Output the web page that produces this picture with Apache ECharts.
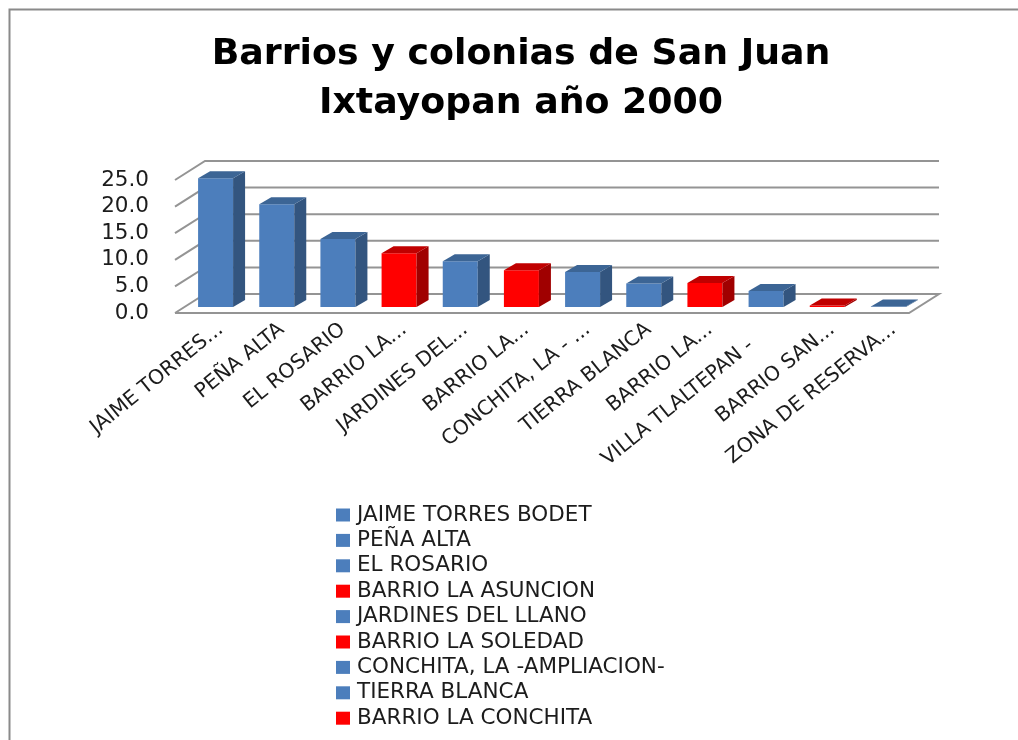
<!DOCTYPE html>
<html><head><meta charset="utf-8">
<style>html,body{margin:0;padding:0;background:#fff}#c{width:1018px;height:740px}</style>
<script src="https://cdn.jsdelivr.net/npm/echarts@6/dist/echarts.min.js"></script>
</head><body><div id="c"></div>
<script>
const chartTitle = 'Barrios y colonias de San Juan\nIxtayopan año 2000';
const categories = ['JAIME TORRES BODET','PEÑA ALTA','EL ROSARIO','BARRIO LA ASUNCION','JARDINES DEL LLANO','BARRIO LA SOLEDAD','CONCHITA, LA -AMPLIACION-','TIERRA BLANCA','BARRIO LA CONCHITA','VILLA TLALTEPAN -','BARRIO SAN...','ZONA DE RESERVA...'];
const tickLabels = ['JAIME TORRES...','PEÑA ALTA','EL ROSARIO','BARRIO LA...','JARDINES DEL...','BARRIO LA...','CONCHITA, LA - ...','TIERRA BLANCA','BARRIO LA...','VILLA TLALTEPAN -\u00a0\u00a0\u00a0\u00a0','BARRIO SAN...','ZONA DE RESERVA...'];
const values = [24.2,19.3,12.8,10.1,8.6,6.9,6.6,4.4,4.5,3.0,0.3,0.1];
const isRed = [false,false,false,true,false,true,false,false,true,false,true,false];
const legendItems = categories.slice(0,9);
const yTicks = [0,5,10,15,20,25];

const BLUE = {front:'#4c7ebc',top:'#3c6595',side:'#33557f'};
const RED = {front:'#ff0000',top:'#c00000',side:'#a00000'};
const FONT = '"DejaVu Sans"';
const GRID = '#949494';
// projection offsets in px, relative to the axis plane
const FRONT = [-15,0], WALL = [15,-19], BAR = [-5,-6], DEPTH = [12,-7], HALF = 17.5;

function wallItem(params, api){
  const v = api.value(1);
  const cs = params.coordSys;
  const p = api.coord([0,v]);
  const xl = cs.x, xr = cs.x+cs.width;
  const pts = v===0
    ? [[xl+FRONT[0],p[1]+FRONT[1]],[xl+WALL[0],p[1]+WALL[1]],[xr+WALL[0],p[1]+WALL[1]],[xr+FRONT[0],p[1]+FRONT[1]],[xl+FRONT[0],p[1]+FRONT[1]]]
    : [[xl+FRONT[0],p[1]+FRONT[1]],[xl+WALL[0],p[1]+WALL[1]],[xr+WALL[0],p[1]+WALL[1]]];
  return {type:'polyline',shape:{points:pts},style:{stroke:GRID,lineWidth:2,fill:null}};
}
function barItem(pal){
  return function(params, api){
    const base = api.coord([api.value(0),0]);
    const top = api.coord([api.value(0),api.value(1)]);
    const x0 = base[0]+BAR[0]-HALF, x1 = base[0]+BAR[0]+HALF;
    const yb = base[1]+BAR[1], yt = top[1]+BAR[1];
    const dx = DEPTH[0], dy = DEPTH[1];
    return {type:'group',children:[
      {type:'polygon',shape:{points:[[x0,yb],[x1,yb],[x1,yt],[x0,yt]]},style:{fill:pal.front}},
      {type:'polygon',shape:{points:[[x1,yb],[x1+dx,yb+dy],[x1+dx,yt+dy],[x1,yt]]},style:{fill:pal.side}},
      {type:'polygon',shape:{points:[[x0,yt],[x1,yt],[x1+dx,yt+dy],[x0+dx,yt+dy]]},style:{fill:pal.top}}
    ]};
  };
}
const series = [{
  type:'custom',name:'wall',silent:true,z:1,coordinateSystem:'cartesian2d',clip:false,
  data:yTicks.map(t=>[0,t]),encode:{x:0,y:1},renderItem:wallItem
}].concat(categories.map((name,i)=>{
  const pal = isRed[i]?RED:BLUE;
  return {type:'custom',name,z:2,coordinateSystem:'cartesian2d',clip:false,
    itemStyle:{color:pal.front},
    data:[[i,values[i]]],encode:{x:0,y:1},renderItem:barItem(pal)};
}));

const chart = echarts.init(document.getElementById('c'),null,{renderer:'canvas'});
chart.setOption({
  animation:false,
  backgroundColor:'#fff',
  title:{text:chartTitle,left:516,top:25,textAlign:'center',
    textStyle:{fontFamily:'"DejaVu Sans"',fontWeight:'bold',fontSize:36.3,lineHeight:49,color:'#000'}},
  grid:{left:190,top:180,width:734,height:133},
  xAxis:{type:'category',data:tickLabels,
    axisLine:{show:false},axisTick:{show:false},splitLine:{show:false},
    axisLabel:{interval:0,rotate:39,margin:14,fontFamily:FONT,fontSize:20.3,color:'#1c1c1c'}},
  yAxis:{type:'value',min:0,max:25,interval:5,
    axisLine:{show:false},axisTick:{show:false},splitLine:{show:false},
    axisLabel:{margin:41,fontFamily:FONT,fontSize:21.5,color:'#1c1c1c',
      formatter:v=>v.toFixed(1)}},
  legend:{orient:'vertical',left:331,top:499,height:400,data:legendItems,icon:'rect',
    itemWidth:14,itemHeight:13,itemGap:3.4,selectedMode:false,
    textStyle:{fontFamily:FONT,fontSize:21.5,color:'#1c1c1c',padding:[0,0,0,2]}},
  tooltip:{show:false},
  graphic:[{type:'rect',z:-1,silent:true,shape:{x:9.5,y:9.5,width:1100,height:800},
    style:{fill:'#fff',stroke:'#8a8a8a',lineWidth:2}}],
  series
});
</script></body></html>
